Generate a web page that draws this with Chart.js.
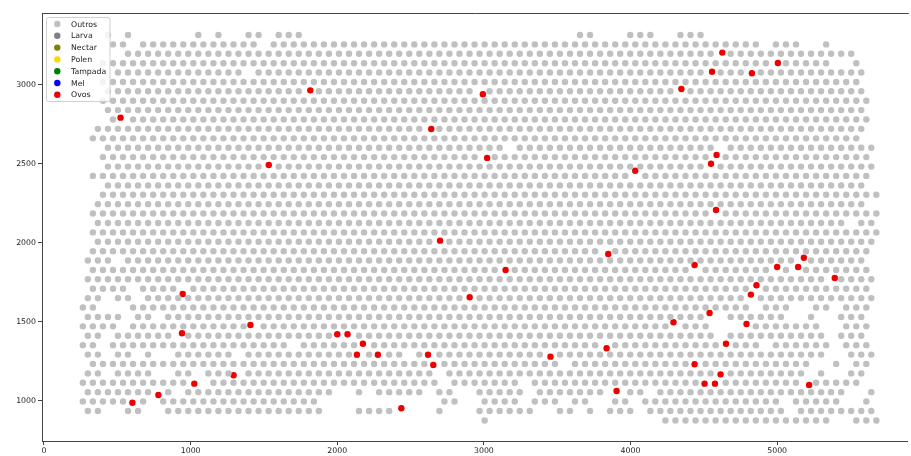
<!DOCTYPE html>
<html><head><meta charset="utf-8">
<script src="https://cdn.jsdelivr.net/npm/chart.js@4/dist/chart.umd.min.js"></script>
<style>html,body{margin:0;padding:0;background:#fff;}canvas{display:block;}</style>
</head><body>
<canvas id="c" width="911" height="456"></canvas>
<script>
// ---- data ----
const seriesNames = ["Outros", "Larva", "Nectar", "Polen", "Tampada", "Mel", "Ovos"];
const xTicks = [0, 1000, 2000, 3000, 4000, 5000];
const yTicks = [1000, 1500, 2000, 2500, 3000];

// comb cell rows, bottom to top: y of the row, x of its first cell, occupied cell indices
const rowY = [875, 935, 995, 1054, 1114, 1173, 1233, 1292, 1352, 1411, 1471, 1531, 1590, 1650, 1709,
  1769, 1828, 1888, 1947, 2007, 2066, 2126, 2186, 2245, 2305, 2364, 2424, 2483, 2543, 2602, 2662,
  2722, 2781, 2841, 2900, 2960, 3019, 3079, 3138, 3198, 3257, 3317];
const rowX0 = [265, 299, 265, 299, 265, 299, 265, 299, 265, 299, 265, 299, 265, 299, 265, 299, 265,
  299, 265, 299, 265, 299, 265, 299, 265, 299, 265, 299, 265, 299, 265, 299, 265, 299, 265, 299, 265,
  299, 265, 299, 265, 299];
const cellStep = 68.5;
const rowCells = [
  "40,58-74,77-79",
  "0-1,4-5,8-23,27-31,35,39-44,47-48,50,52-54,56-69,71-78",
  "0-6,8-23,36-37,40-43,45-47,49-50,53-54,56-69,71-75,78",
  "0-8,10-24,27,29-33,35-36,39-43,45-51,53-55,57-75,78",
  "0-11,13-35,37-43,45-77",
  "0-1,3-6,9-10,12-34,36-71,73,76-77",
  "1-47,49-72,75,77-78",
  "0-1,3-4,6,9-14,16-31,33-73,76-78",
  "0-1,3-20,22-67,69-74,76-78",
  "0-1,3-62,64-73,75-77",
  "0-3,5-62,66-73,76-78",
  "0-3,5-6,8-62,64-69,72,75-77",
  "0-1,5-66,68-70,73-74,76-78",
  "0-1,3-4,6-78",
  "1-4,6-78",
  "0-78",
  "1-78",
  "0-2,4-77",
  "1-78",
  "1-78",
  "1-79",
  "1-75,77-78",
  "1-79",
  "1-77",
  "2-79",
  "2-77",
  "1-78",
  "2-78",
  "2-78",
  "2-41,43-62,64-78",
  "1-77",
  "1-77",
  "3-78",
  "2-77",
  "2-78",
  "2-77",
  "2-77",
  "3-15,17-77",
  "2-74,77",
  "4-76",
  "3-4,6-17,19-67,69-71,74",
  "2,4,11,13,16-17,19-21,49-50,54-56,59-61"
];

// Ovos (eggs) cells
const ovosX = [522, 1816, 1533, 2641, 2993, 3022, 4032, 4347, 4556, 4626, 4828, 5005, 4549, 4587, 4583,
  2701, 3148, 3848, 4437, 5000, 5143, 5182, 5393, 946, 2903, 4859, 4821, 4539, 4293, 4791, 941, 1408,
  2000, 2070, 2175, 2134, 2277, 2619, 2655, 3454, 3837, 4651, 1293, 1025, 4437, 4505, 4576, 4614,
  5218, 3905, 780, 603, 2437];
const ovosY = [2793, 2966, 2493, 2721, 2941, 2538, 2457, 2975, 3084, 3205, 3074, 3139, 2501, 2557, 2208,
  2014, 1828, 1929, 1860, 1847, 1847, 1906, 1777, 1676, 1655, 1731, 1672, 1556, 1497, 1486, 1427, 1480,
  1421, 1421, 1361, 1291, 1291, 1291, 1226, 1279, 1332, 1361, 1161, 1108, 1231, 1108, 1108, 1167,
  1099, 1061, 1036, 987, 952];

// ---- build points ----
function parseCells(s) {
  const out = [];
  s.split(",").forEach(p => {
    const [a, b] = p.split("-").map(Number);
    const e = (b === undefined) ? a : b;
    for (let i = a; i <= e; i++) out.push(i);
  });
  return out;
}
let outros = [];
rowCells.forEach((s, k) => {
  parseCells(s).forEach(i => outros.push({ x: rowX0[k] + i * cellStep, y: rowY[k] }));
});
const ovos = ovosX.map((x, i) => ({ x: x, y: ovosY[i] }));
// an egg cell replaces the comb cell it sits on
ovos.forEach(o => {
  let best = -1, bd = 1e9;
  outros.forEach((p, j) => {
    const d = Math.pow((p.x - o.x) / 68.5, 2) + Math.pow((p.y - o.y) / 59.5, 2);
    if (d < bd) { bd = d; best = j; }
  });
  if (best >= 0 && bd < 0.6) outros.splice(best, 1);
});

const colors = ["#c0c0c0", "#808080", "#808000", "#ffd700", "#008000", "#0000ff", "#ee0000"];
const dataBySeries = [outros, [], [], [], [], [], ovos];

const legendPlugin = {
  id: "boxLegend",
  afterDatasetsDraw(chart) {
    const ctx = chart.ctx;
    const x = 46.5, y = 17.5, w = 63.5, h = 84;
    ctx.save();
    ctx.fillStyle = "rgba(255,255,255,0.8)";
    ctx.strokeStyle = "#d0d0d0";
    ctx.lineWidth = 1;
    ctx.beginPath();
    const r = 2;
    ctx.moveTo(x + r, y); ctx.lineTo(x + w - r, y); ctx.quadraticCurveTo(x + w, y, x + w, y + r);
    ctx.lineTo(x + w, y + h - r); ctx.quadraticCurveTo(x + w, y + h, x + w - r, y + h);
    ctx.lineTo(x + r, y + h); ctx.quadraticCurveTo(x, y + h, x, y + h - r);
    ctx.lineTo(x, y + r); ctx.quadraticCurveTo(x, y, x + r, y);
    ctx.closePath(); ctx.fill(); ctx.stroke();
    ctx.font = "7.8px 'DejaVu Sans'";
    ctx.textBaseline = "middle";
    ctx.textAlign = "left";
    chart.data.datasets.forEach((ds, i) => {
      const cy = 24 + i * 11.8;
      ctx.fillStyle = ds.backgroundColor;
      ctx.beginPath(); ctx.arc(57.3, cy, 3.2, 0, Math.PI * 2); ctx.fill();
      ctx.fillStyle = "#222";
      ctx.fillText(ds.label, 71, cy + 0.5);
    });
    ctx.restore();
  }
};
const framePlugin = {
  id: "frame",
  beforeDraw(chart) {
    const ctx = chart.ctx;
    ctx.save();
    ctx.fillStyle = "#ffffff";
    ctx.fillRect(0, 0, chart.width, chart.height);
    ctx.restore();
  },
  afterDraw(chart) {
    const ctx = chart.ctx, a = chart.chartArea;
    ctx.save();
    ctx.strokeStyle = "#444";
    ctx.lineWidth = 1;
    ctx.beginPath();
    ctx.moveTo(a.left, a.top + 0.5); ctx.lineTo(a.right + 1, a.top + 0.5);
    ctx.stroke();
    ctx.restore();
  }
};

new Chart(document.getElementById("c"), {
  type: "scatter",
  data: {
    datasets: seriesNames.map((n, i) => ({
      label: n,
      data: dataBySeries[i],
      backgroundColor: colors[i],
      borderWidth: 0,
      pointRadius: 3.2,
      pointHoverRadius: 3.2
    }))
  },
  options: {
    responsive: false,
    animation: false,
    devicePixelRatio: 1,
    layout: { padding: { top: 13, right: 1, left: 0, bottom: 0 } },
    plugins: { legend: { display: false }, tooltip: { enabled: false } },
    scales: {
      x: {
        type: "linear", min: -13.6, max: 5891,
        afterBuildTicks: s => { s.ticks = xTicks.map(v => ({ value: v })); },
        afterFit: s => { s.height = 15; },
        grid: { drawOnChartArea: false, drawTicks: true, tickLength: 4, color: "#444" },
        border: { display: true, color: "#444", width: 1 },
        ticks: { padding: 1, color: "#222", font: { family: "DejaVu Sans", size: 7.8 }, maxRotation: 0,
          callback: v => String(v) }
      },
      y: {
        type: "linear", min: 744.7, max: 3456,
        afterBuildTicks: s => { s.ticks = yTicks.map(v => ({ value: v })); },
        afterFit: s => { s.width = 42; },
        grid: { drawOnChartArea: false, drawTicks: true, tickLength: 4, color: "#444" },
        border: { display: true, color: "#444", width: 1 },
        ticks: { padding: 2, color: "#222", font: { family: "DejaVu Sans", size: 7.8 },
          callback: v => String(v) }
      }
    }
  },
  plugins: [framePlugin, legendPlugin]
});
</script>
</body></html>
